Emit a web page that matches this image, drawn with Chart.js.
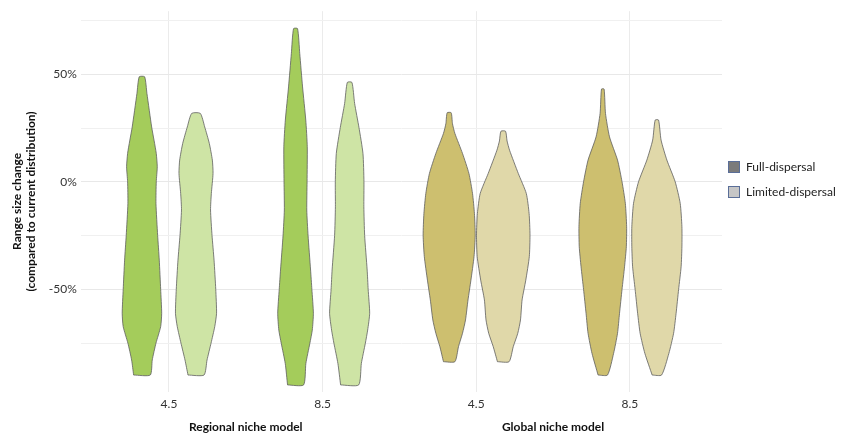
<!DOCTYPE html>
<html>
<head>
<meta charset="utf-8">
<title>Range size change</title>
<script src="https://cdn.jsdelivr.net/npm/chart.js@4.4.1/dist/chart.umd.min.js"></script>
<style>
  html, body { margin: 0; padding: 0; background: #fff; }
  #wrap { position: relative; width: 841px; height: 433px; }
  .legend { position: absolute; left: 728px; top: 160px; font: 12px Lato, sans-serif; color: #222; }
  .legend .item { display: flex; align-items: center; height: 13px; margin-bottom: 12px; }
  .legend .box { width: 12px; height: 12px; box-sizing: border-box; border: 1px solid #5a6e98; margin-right: 6px; }
</style>
</head>
<body>
<div id="wrap">
  <canvas id="violinChart" width="841" height="433"></canvas>
  <div class="legend" id="legend"></div>
</div>
<script>
// Data
const groups = ['Regional niche model', 'Global niche model'];
const scenarios = ['4.5', '8.5', '4.5', '8.5'];
const dispersal = ['Full-dispersal', 'Limited-dispersal'];
const yTicks = [-75, -50, -25, 0, 25, 50, 75];

// violin profiles: [range size change (%), density], bottom to top
const regional45Full = [[-89.8, 8.3], [-82.8, 10.3], [-75, 14], [-67.3, 18.7], [-61.1, 19.7], [-50, 18.7], [-36.4, 17.3], [-25, 15.7], [-10, 14], [0, 14.3], [7, 15.3], [13.2, 14.3], [19, 12.2], [25.5, 9.7], [41, 5], [48.8, 2.7]];
const regional45Limited = [[-89.8, 8], [-82.8, 11], [-75, 15], [-67.3, 18.7], [-61.1, 20.5], [-50, 19.7], [-36.4, 18], [-25, 16], [-13.1, 14.5], [-5.4, 15.3], [3.9, 17], [10.1, 16.3], [17.8, 13.3], [25.5, 8.7], [31.8, 4.3]];
const regional85Full = [[-94.4, 8], [-84.4, 10.3], [-75, 14.3], [-68.9, 16.7], [-61.1, 17.8], [-50, 16.3], [-41, 15], [-25, 12.5], [-13.1, 11.2], [0, 11.5], [16.3, 11.7], [28.7, 10.2], [44.1, 7], [59.6, 4.2], [71.2, 2]];
const regional85Limited = [[-94.4, 9], [-84.4, 11.7], [-75, 15.7], [-68.9, 18], [-61.1, 20], [-50, 18.5], [-41, 17.5], [-25, 15], [-11.6, 14.2], [0, 14.3], [13.2, 13.3], [25.3, 9.3], [36.4, 5], [46.2, 2.3]];
const global45Full = [[-83.6, 5.7], [-76.6, 9.3], [-70.4, 13.3], [-64.2, 16.3], [-54.9, 18.8], [-45.7, 21.7], [-34.8, 24.8], [-24.8, 26], [-14.7, 25.2], [-5.4, 23.3], [3.9, 19.7], [13.2, 13.3], [22.5, 5.7], [27, 3.3], [32.1, 2]];
const global45Limited = [[-83.6, 5.8], [-76.6, 10], [-70.4, 14.5], [-64.2, 17.2], [-54.9, 18.8], [-45.7, 22.5], [-34.8, 26], [-24.8, 26.7], [-14.7, 25.8], [-5.4, 23], [3.9, 15], [14.7, 6.3], [19, 3.8], [23.5, 2.3]];
const global85Full = [[-89.8, 4.7], [-79.7, 10.8], [-70.4, 14.7], [-61.1, 16.7], [-50, 19.2], [-39.5, 21.7], [-30.2, 23.5], [-20.9, 23.8], [-10, 22.5], [0, 19.2], [10.1, 14.7], [20.9, 6.7], [31.8, 2.7], [43.1, 1.3]];
const global85Limited = [[-89.8, 4.7], [-79.7, 12], [-70.4, 16.7], [-61.1, 19.2], [-50, 21.7], [-39.5, 24.2], [-30.2, 25], [-20.9, 25], [-10, 23.3], [0, 18.3], [10.1, 10], [19.4, 4.2], [28.7, 1.7]];

const profiles = [
    [regional45Full, regional45Limited],
    [regional85Full, regional85Limited],
    [global45Full, global45Limited],
    [global85Full, global85Limited]
];

// Styling
const fillColors = [
    ['#a4cc5b', '#cee4a5'],   // regional
    ['#cdbf6f', '#e0d8a9']    // global
];
const legendColors = ['#7b7b7b', '#c6c6c6'];
const dodge = 0.176;          // x offset of each violin from its tick
const densityScale = 1 / 153.3;
const textFont = 'Lato, sans-serif';

// one closed polygon per violin
function violinPoints(profile, center) {
    const left = profile.map(([y, d]) => ({ x: center - d * densityScale, y }));
    const right = profile.slice().reverse().map(([y, d]) => ({ x: center + d * densityScale, y }));
    return [...left, ...right, left[0]];
}

const datasets = [];
profiles.forEach((pair, i) => {
    const group = i < 2 ? 0 : 1;
    pair.forEach((profile, s) => {
        datasets.push({
            label: groups[group] + ' ' + scenarios[i] + ' ' + dispersal[s],
            data: violinPoints(profile, i + 1 + (s === 0 ? -dodge : dodge)),
            showLine: true,
            fill: 'shape',
            tension: 0.2,
            backgroundColor: fillColors[group][s],
            borderColor: '#5e5e5e',
            borderWidth: 0.8,
            pointRadius: 0
        });
    });
});

// group names under the tick labels
const groupLabels = {
    id: 'groupLabels',
    afterDraw(chart) {
        const { ctx, scales: { x }, chartArea } = chart;
        ctx.save();
        ctx.font = 'bold 12px ' + textFont;
        ctx.fillStyle = '#111';
        ctx.textAlign = 'center';
        ctx.textBaseline = 'middle';
        groups.forEach((g, i) => {
            ctx.fillText(g, x.getPixelForValue(1.5 + i * 2), chartArea.bottom + 36);
        });
        ctx.restore();
    }
};

new Chart(document.getElementById('violinChart').getContext('2d'), {
    type: 'scatter',
    data: { datasets },
    options: {
        responsive: false,
        animation: false,
        devicePixelRatio: 1,
        layout: { padding: { left: 10, right: 119, top: 11, bottom: 17 } },
        plugins: { legend: { display: false }, tooltip: { enabled: false } },
        scales: {
            x: {
                type: 'linear',
                min: 0.426,
                max: 4.6,
                afterBuildTicks: scale => { scale.ticks = scenarios.map((_, i) => ({ value: i + 1 })); },
                ticks: {
                    callback: v => scenarios[v - 1],
                    autoSkip: false,
                    maxRotation: 0,
                    padding: 5,
                    color: '#333',
                    font: { family: textFont, size: 12 }
                },
                grid: { color: '#ebebeb', drawTicks: false },
                border: { display: false }
            },
            y: {
                min: -97.5,
                max: 79.3,
                afterBuildTicks: scale => { scale.ticks = yTicks.map(v => ({ value: v })); },
                ticks: {
                    callback: v => (v % 50 === 0 ? v + '%' : ''),
                    autoSkip: false,
                    padding: 4,
                    color: '#333',
                    font: { family: textFont, size: 12 }
                },
                grid: {
                    color: ctx => (ctx.tick && ctx.tick.value % 50 === 0 ? '#e8e8e8' : '#f0f0f0'),
                    drawTicks: false
                },
                border: { display: false },
                title: {
                    display: true,
                    text: ['Range size change', '(compared to current distribution)'],
                    color: '#111',
                    font: { family: textFont, size: 12, weight: 'bold' },
                    padding: { top: 0, bottom: 6 }
                }
            }
        }
    },
    plugins: [groupLabels]
});

// legend
const legend = document.getElementById('legend');
dispersal.forEach((name, i) => {
    legend.innerHTML += `<div class="item"><span class="box" style="background:${legendColors[i]}"></span>${name}</div>`;
});
</script>
</body>
</html>
